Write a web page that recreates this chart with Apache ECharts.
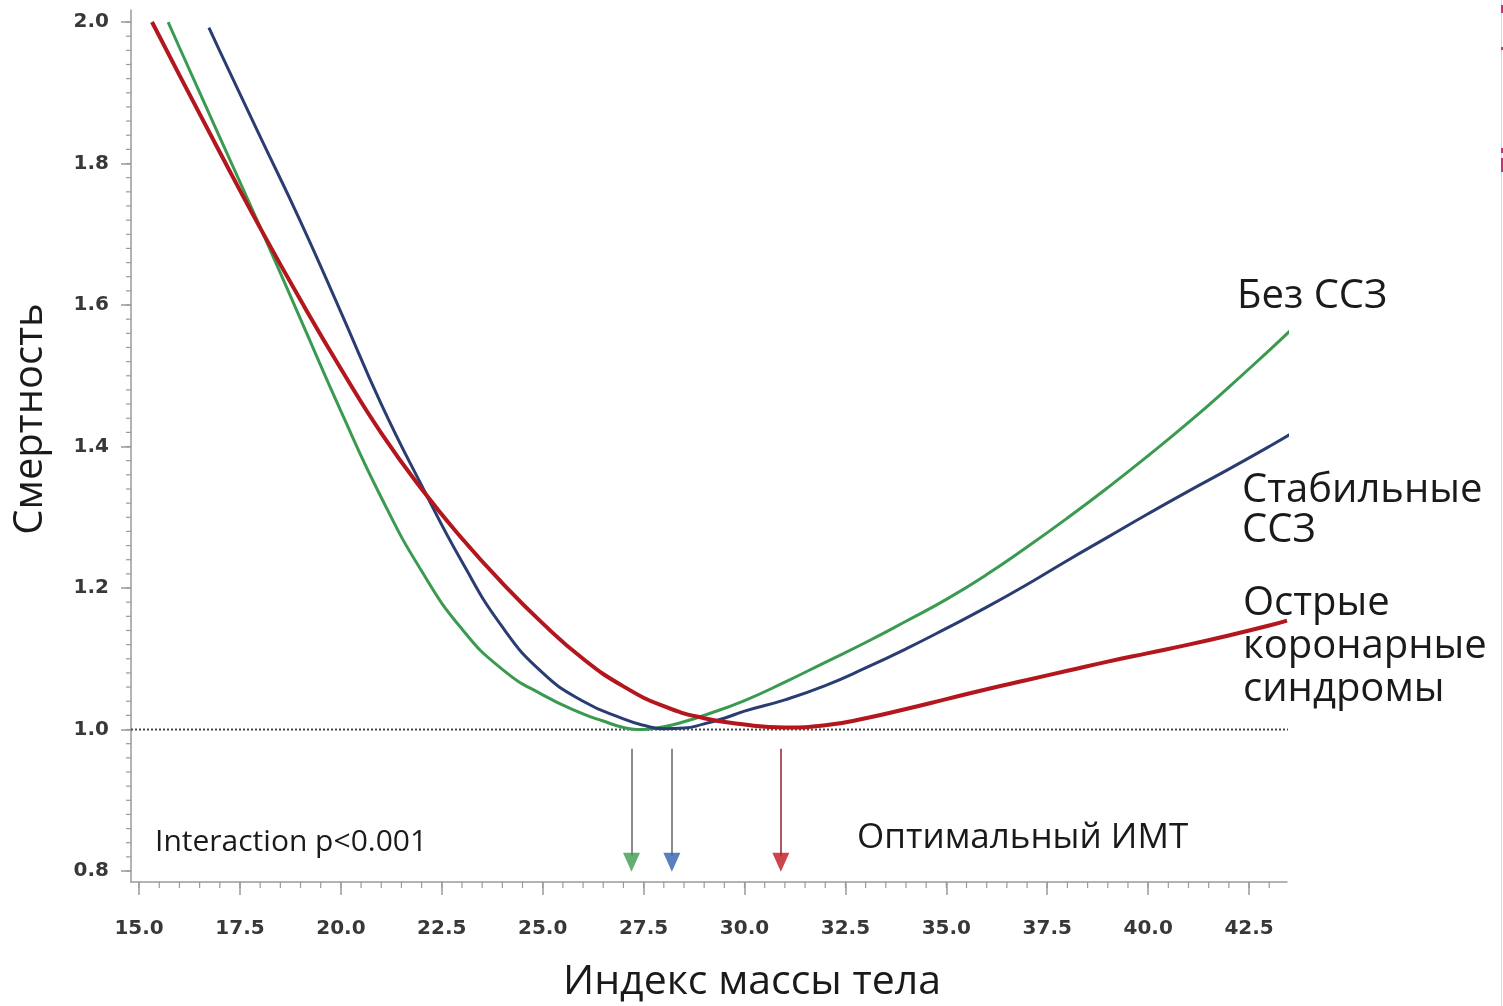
<!DOCTYPE html>
<html><head><meta charset="utf-8">
<script src="https://cdn.jsdelivr.net/npm/echarts@6/dist/echarts.min.js"></script>
<style>html,body{margin:0;padding:0;background:#fff}#c{width:1503px;height:1006px}</style>
</head><body><div id="c"></div>
<script>
// ---- data ----
const xTickValues = [15.0, 17.5, 20.0, 22.5, 25.0, 27.5, 30.0, 32.5, 35.0, 37.5, 40.0, 42.5];
const yTickValues = [0.8, 1.0, 1.2, 1.4, 1.6, 1.8, 2.0];
const seriesNames = ['Без ССЗ', 'Стабильные ССЗ', 'Острые коронарные синдромы'];

// Без ССЗ (green)
const noCvd = [
  [15.72, 2.000], [16, 1.964], [17, 1.837], [18, 1.710], [19, 1.580], [20, 1.450],
  [21, 1.328], [22, 1.224], [23, 1.142], [24, 1.085], [25, 1.049], [26, 1.022],
  [26.5, 1.012], [27, 1.003], [27.5, 1.000], [28, 1.004], [28.5, 1.011], [29, 1.020],
  [30, 1.041], [31, 1.067], [32, 1.095], [33, 1.123], [34, 1.153], [35, 1.184],
  [36, 1.219], [37, 1.258], [38, 1.299], [39, 1.342], [40, 1.387], [41, 1.434],
  [42, 1.484], [43, 1.536], [43.6, 1.568]
];
// Стабильные ССЗ (blue)
const stableCvd = [
  [16.73, 1.992], [17, 1.959], [18, 1.838], [19, 1.718], [20, 1.590], [21, 1.460],
  [22, 1.345], [23, 1.237], [24, 1.145], [25, 1.080], [26, 1.040], [27, 1.015],
  [27.5, 1.006], [28, 1.001], [28.5, 1.002], [29, 1.008], [29.5, 1.016], [30, 1.026],
  [31, 1.042], [32, 1.062], [33, 1.087], [34, 1.114], [35, 1.143], [36, 1.173],
  [37, 1.205], [38, 1.239], [39, 1.272], [40, 1.305], [41, 1.337], [42, 1.368],
  [43, 1.400], [43.6, 1.420]
];
// Острые коронарные синдромы (red)
const acs = [
  [15.32, 2.000], [16, 1.925], [17, 1.816], [18, 1.709], [19, 1.607], [20, 1.510],
  [21, 1.419], [22, 1.340], [23, 1.270], [24, 1.207], [25, 1.150], [26, 1.100],
  [27, 1.061], [28, 1.033], [29, 1.016], [30, 1.007], [31, 1.003], [32, 1.006],
  [33, 1.016], [34, 1.029], [35, 1.043], [36, 1.057], [37, 1.070], [38, 1.083],
  [39, 1.096], [40, 1.108], [41, 1.120], [42, 1.133], [43, 1.147], [43.44, 1.154]
];
const optimalBmi = [27.2, 28.2, 30.9];
const referenceLevel = 1.0;
const referenceSpan = [14.8, 43.69];

// ---- styling ----
const curveColors = ['#3a9a50', '#2a3d72', '#b4161d'];
const curveWidths = [3, 3, 4];
const headColors = ['#3f9a4e', '#2f62ad', '#c0151f'];
const shaftColors = ['#8c8c8c', '#8c8c8c', '#a85a5e'];
const labelFont = '"Open Sans", "Noto Sans", sans-serif';
const tickFont = '"DejaVu Sans", sans-serif';

const xMinor = []; for (let i = 0; i <= 56; i++) xMinor.push(Math.round((15 + i * 0.5) * 10) / 10);
const yMinor = []; for (let i = 0; i <= 60; i++) yMinor.push(Math.round((0.8 + i * 0.02) * 100) / 100);

const X_MIN = 14.8, X_MAX = 43.44, Y_MIN = 0.7845, Y_MAX = 2.017;
const axisGray = '#9a9a9a';

const chart = echarts.init(document.getElementById('c'), null, {renderer: 'canvas'});

const curveData = [noCvd, stableCvd, acs];
const series = [];
// dotted reference line at 1.0
series.push({
  type: 'line', data: referenceSpan.map(x => [x, referenceLevel]), symbol: 'none', clip: false, silent: true, z: 2,
  lineStyle: {color: '#4a4a4a', width: 2, type: [2, 2]}
});
curveData.forEach((d, i) => series.push({
  name: seriesNames[i], type: 'line', data: d, smooth: true, symbol: 'none', clip: false,
  z: 3 + (i === 2 ? 1 : 0),
  lineStyle: {color: curveColors[i], width: curveWidths[i]},
  markLine: {
    silent: true, symbol: 'none', animation: false, label: {show: false},
    lineStyle: {color: shaftColors[i], width: 2, type: 'solid'},
    data: [[{coord: [optimalBmi[i], 0.973]}, {coord: [optimalBmi[i], 0.822]}]]
  }
}));
// arrow heads
series.push({
  type: 'scatter', clip: false, silent: true,
  symbol: 'triangle', symbolSize: [17, 19], symbolRotate: 180, z: 5,
  data: optimalBmi.map((v, i) => ({value: [v, 0.8125], itemStyle: {color: headColors[i]}}))
});
// minor ticks of both axes
series.push({
  type: 'custom', silent: true, clip: false, z: 1,
  data: xMinor.map(v => [0, v]).concat(yMinor.map(v => [1, v])),
  encode: {x: -1, y: -1},
  renderItem: (params, api) => {
    const kind = api.value(0), v = api.value(1);
    if (kind === 0) {
      const p = api.coord([v, Y_MIN]);
      return {type: 'line', shape: {x1: p[0], y1: p[1], x2: p[0], y2: p[1] + 6}, style: {stroke: axisGray, lineWidth: 1.2}};
    }
    const p = api.coord([X_MIN, v]);
    return {type: 'line', shape: {x1: p[0] - 5, y1: p[1], x2: p[0], y2: p[1]}, style: {stroke: axisGray, lineWidth: 1.2}};
  }
});

const txt = (text, x, y, size, align) => ({
  type: 'text', x: x, y: y, silent: true,
  style: {text: text, font: size + 'px ' + labelFont, fill: '#1a1a1a', textAlign: align || 'left', textVerticalAlign: 'middle'}
});

chart.setOption({
  animation: false,
  backgroundColor: '#fff',
  grid: {left: 131, right: 216, top: 10, bottom: 124, containLabel: false},
  xAxis: {
    type: 'value', min: X_MIN, max: X_MAX, position: 'bottom',
    axisLine: {show: true, onZero: false, lineStyle: {color: axisGray, width: 1.5}},
    axisTick: {show: true, customValues: xTickValues, length: 13, lineStyle: {color: axisGray, width: 1.5}},
    axisLabel: {show: true, customValues: xTickValues, margin: 37, formatter: v => v.toFixed(1),
      fontFamily: tickFont, fontWeight: 'bold', fontSize: 20, color: '#383838'},
    splitLine: {show: false}
  },
  yAxis: {
    type: 'value', min: Y_MIN, max: Y_MAX, position: 'left',
    axisLine: {show: true, onZero: false, lineStyle: {color: axisGray, width: 1.5}},
    axisTick: {show: true, customValues: yTickValues, length: 10, lineStyle: {color: axisGray, width: 1.5}},
    axisLabel: {show: true, customValues: yTickValues, margin: 22, formatter: v => v.toFixed(1),
      fontFamily: tickFont, fontWeight: 'bold', fontSize: 20, color: '#383838'},
    splitLine: {show: false}
  },
  series: series,
  graphic: [
    Object.assign(txt('Смертность', 31, 419, 40, 'center'), {rotation: Math.PI / 2}),
    txt('Индекс массы тела', 752, 982, 41, 'center'),
    txt('Без ССЗ', 1237, 297, 40),
    txt('Стабильные', 1242, 491, 40),
    txt('ССЗ', 1242, 531, 40),
    txt('Острые', 1243, 604, 40),
    txt('коронарные', 1243, 647, 40),
    txt('синдромы', 1243, 690, 40),
    txt('Interaction p<0.001', 155, 842, 30),
    txt('Оптимальный ИМТ', 857, 838, 35),
    {type: 'line', silent: true, shape: {x1: 1501.5, y1: 0, x2: 1501.5, y2: 1006}, style: {stroke: '#d8d8d8', lineWidth: 1}},
    {type: 'rect', silent: true, shape: {x: 1501, y: 5, width: 2, height: 8}, style: {fill: '#c9307a'}},
    {type: 'rect', silent: true, shape: {x: 1501, y: 47, width: 2, height: 3}, style: {fill: '#c9307a'}},
    {type: 'rect', silent: true, shape: {x: 1501, y: 148, width: 2, height: 5}, style: {fill: '#c9307a'}},
    {type: 'rect', silent: true, shape: {x: 1501, y: 158, width: 2, height: 14}, style: {fill: '#c9307a'}}
  ]
});
</script>
</body></html>
